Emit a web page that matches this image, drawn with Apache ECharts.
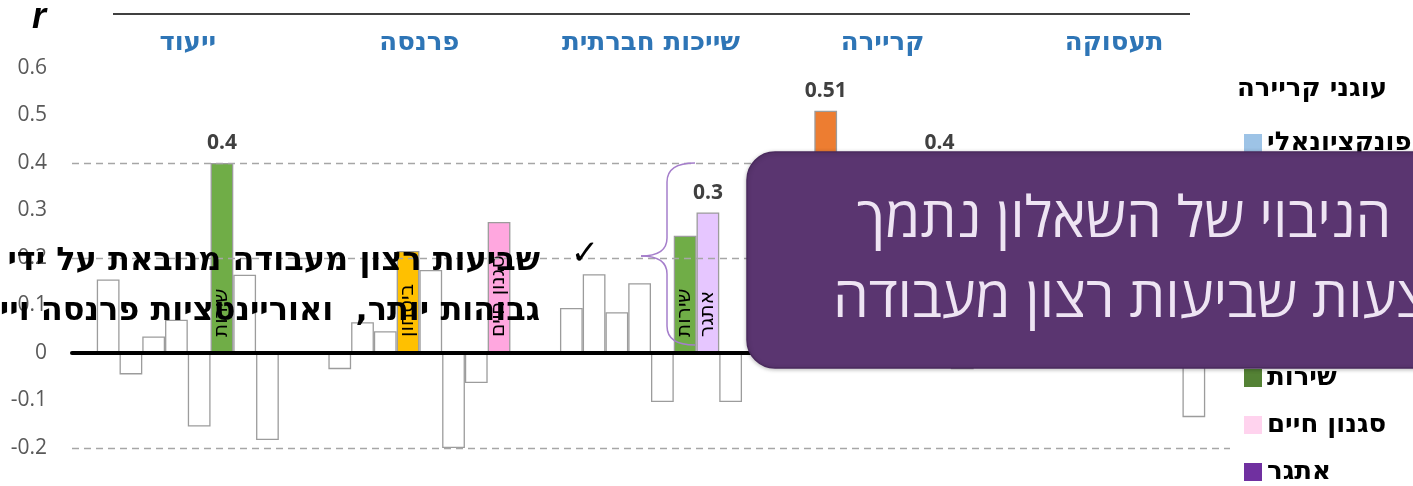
<!DOCTYPE html>
<html>
<head>
<meta charset="utf-8">
<script src="https://cdn.jsdelivr.net/npm/echarts@6/dist/echarts.min.js"></script>
<style>
html,body{margin:0;padding:0;background:#fff;overflow:hidden;}
#chart{width:1413px;height:486px;}
</style>
</head>
<body>
<div id="chart"></div>
<script>
// ---- data ----
const categories = ['ייעוד', 'פרנסה', 'שייכות חברתית', 'קריירה', 'תעסוקה'];
// bar order inside each group (left to right)
const anchorNames = ['פונקציונאלי', 'ניהולי', 'עצמאות', 'ביטחון', 'יזמות', 'שירות', 'אתגר', 'סגנון חיים'];
const legendOrder = ['פונקציונאלי', 'ניהולי', 'עצמאות', 'ביטחון', 'יזמות', 'שירות', 'סגנון חיים', 'אתגר'];
const functional      = [0.155, -0.034, 0.095, 0.14, 0.20];
const managerial      = [-0.045, 0.065, 0.166, 0.51, 0.10];
const autonomy        = [0.035, 0.046, 0.086, 0.22, 0.25];
const security        = [0.07, 0.215, 0.147, 0.06, 0.30];
const entrepreneurial = [-0.155, 0.175, -0.103, 0.18, 0.15];
const service         = [0.40, -0.20, 0.247, 0.12, 0.05];
const challenge       = [0.165, -0.063, 0.296, 0.40, 0.18];
const lifestyle       = [-0.183, 0.276, -0.103, -0.034, -0.135];
const seriesValues = [functional, managerial, autonomy, security, entrepreneurial, service, challenge, lifestyle];
const yTicks = { min: -0.2, max: 0.6, interval: 0.1 };
const dashedLevels = [0.4, 0.2, -0.2];
const legendTitle = 'עוגני קריירה';
const yName = 'r';

// ---- styling of highlighted bars ----
const legendColors = {
  'פונקציונאלי': '#9DC3E6', 'ניהולי': '#ED7D31', 'עצמאות': '#A5A5A5', 'ביטחון': '#FFC000',
  'יזמות': '#5B9BD5', 'שירות': '#548235', 'סגנון חיים': '#FFD3EE', 'אתגר': '#7030A0'
};
// [series, category, fill, name label inside, value label on top]
const highlights = [
  ['שירות', 'ייעוד', '#70AD47', true, true],
  ['ביטחון', 'פרנסה', '#FFC000', true, false],
  ['סגנון חיים', 'פרנסה', '#FFA7DF', true, false],
  ['שירות', 'שייכות חברתית', '#70AD47', true, false],
  ['אתגר', 'שייכות חברתית', '#E6C6FF', true, true],
  ['ניהולי', 'קריירה', '#ED7D31', false, true],
  ['אתגר', 'קריירה', '#E6C6FF', false, true]
];
function hl(name, cat) {
  return highlights.find(h => h[0] === name && h[1] === cat);
}

const HEB = "'DejaVu Sans', 'Liberation Sans', sans-serif";
const NUM = "'Open Sans', 'Liberation Sans', sans-serif";
const BAR_GAP_CAT = '21.4%';

const mainSeries = anchorNames.map((name, si) => ({
  name: name,
  type: 'bar',
  xAxisIndex: 0,
  z: 3,
  barGap: '0%',
  barCategoryGap: BAR_GAP_CAT,
  silent: true,
  itemStyle: { color: '#ffffff', borderColor: '#9c9c9c', borderWidth: 1.3 },
  data: seriesValues[si].map((v, ci) => {
    const h = hl(name, categories[ci]);
    if (!h) return v;
    const item = { value: v, itemStyle: { color: h[2] } };
    if (h[3]) {
      item.label = {
        show: true, formatter: name, position: 'insideBottom', rotate: 90,
        align: 'left', verticalAlign: 'middle', distance: 16,
        color: '#000', fontSize: 20, fontFamily: HEB
      };
    }
    return item;
  })
}));

const labelSeries = anchorNames.map((name, si) => {
  const s = {
    name: 'lbl_' + si,
    type: 'bar',
    xAxisIndex: 1,
    z: 1,
    barGap: '0%',
    barCategoryGap: BAR_GAP_CAT,
    silent: true,
    itemStyle: { color: 'rgba(0,0,0,0)', borderWidth: 0 },
    label: {
      show: false, position: 'top', distance: 9,
      color: '#404040', fontSize: 21, fontWeight: 'bold', fontFamily: NUM,
      formatter: p => String(parseFloat(Number(p.value).toFixed(2)))
    },
    data: seriesValues[si].map((v, ci) => {
      const h = hl(name, categories[ci]);
      return (h && h[4]) ? { value: v, label: { show: true } } : v;
    })
  };
  if (si === 0) {
    s.markLine = {
      silent: true, symbol: 'none',
      label: { show: false },
      lineStyle: { color: '#a6a6a6', type: [7, 5], width: 1.3 },
      data: dashedLevels.map(v => ({ yAxis: v }))
    };
  }
  return s;
});

// brace pieces
const braceStyle = { stroke: '#A57ECB', lineWidth: 1.5, fill: null };
const brace = [
  { type: 'bezierCurve', z: 50, shape: { x1: 695, y1: 163, x2: 667, y2: 182, cpx1: 667, cpy1: 163 }, style: braceStyle },
  { type: 'line', z: 50, shape: { x1: 667, y1: 182, x2: 667, y2: 238 }, style: braceStyle },
  { type: 'bezierCurve', z: 50, shape: { x1: 667, y1: 238, x2: 641, y2: 256, cpx1: 667, cpy1: 256 }, style: braceStyle },
  { type: 'bezierCurve', z: 50, shape: { x1: 641, y1: 256, x2: 667, y2: 274, cpx1: 667, cpy1: 256 }, style: braceStyle },
  { type: 'line', z: 50, shape: { x1: 667, y1: 274, x2: 667, y2: 326 }, style: braceStyle },
  { type: 'bezierCurve', z: 50, shape: { x1: 667, y1: 326, x2: 695, y2: 345, cpx1: 667, cpy1: 345 }, style: braceStyle }
];

const chart = echarts.init(document.getElementById('chart'), null, { renderer: 'canvas' });
chart.setOption({
  animation: false,
  textStyle: { fontFamily: HEB },
  grid: { left: 72, right: 183, top: 68, bottom: 38 },
  title: {
    text: legendTitle, left: 1232, top: 71,
    textStyle: { fontSize: 26, fontWeight: 'bold', color: '#000', fontFamily: HEB }
  },
  legend: {
    orient: 'vertical', left: 1239, top: 125, height: 420,
    itemWidth: 18, itemHeight: 18, itemGap: 21,
    icon: 'rect',
    textStyle: { fontSize: 26, fontWeight: 'bold', color: '#000', fontFamily: HEB },
    data: legendOrder.map(n => ({ name: n, itemStyle: { color: legendColors[n], borderWidth: 0 } }))
  },
  xAxis: [
    {
      type: 'category', data: categories, position: 'top',
      axisLine: { show: false, onZero: false }, axisTick: { show: false },
      axisLabel: { color: '#2E75B6', fontWeight: 'bold', fontSize: 26, margin: 12, fontFamily: HEB }
    },
    {
      type: 'category', data: categories, position: 'bottom', z: 10,
      axisLine: { show: true, onZero: true, lineStyle: { color: '#000', width: 4 } },
      axisTick: { show: false }, axisLabel: { show: false }
    }
  ],
  yAxis: {
    type: 'value', min: yTicks.min, max: yTicks.max, interval: yTicks.interval,
    axisLine: { show: false }, axisTick: { show: false }, splitLine: { show: false },
    axisLabel: { color: '#595959', fontSize: 21, margin: 25, fontFamily: NUM }
  },
  series: labelSeries.concat(mainSeries),
  graphic: [
    { type: 'line', z: 50, shape: { x1: 113, y1: 14, x2: 1190, y2: 14 }, style: { stroke: '#404040', lineWidth: 2 } },
    { type: 'text', z: 50, style: { text: yName, x: 39, y: 18, align: 'center', verticalAlign: 'middle', font: "italic bold 36px 'Liberation Sans', Arial", fill: '#000' } }
  ].concat(brace).concat([
    { type: 'text', z: 60, style: { text: '✓', x: 585, y: 255, align: 'center', verticalAlign: 'middle', font: "34px 'DejaVu Sans'", fill: '#000' } },
    { type: 'text', z: 60, style: { text: 'שביעות רצון מעבודה מנובאת על ידי', x: 540, y: 262, align: 'right', verticalAlign: 'middle', font: "bold 32px 'DejaVu Sans', sans-serif", fill: '#000' } },
    { type: 'text', z: 60, style: { text: 'גבוהות יותר,  ואוריינטציות פרנסה וייעוד', x: 540, y: 312, align: 'right', verticalAlign: 'middle', font: "bold 32px 'DejaVu Sans', sans-serif", fill: '#000' } },
    { type: 'rect', z: 100, shape: { x: 747, y: 152, width: 720, height: 216, r: 28 },
      style: { fill: '#5A3570', stroke: '#4A2A5E', lineWidth: 1.5, shadowBlur: 4, shadowColor: 'rgba(0,0,0,0.25)', shadowOffsetY: 1 } },
    { type: 'text', z: 101, style: { text: 'הניבוי של השאלון נתמך', x: 857, y: 221, align: 'left', verticalAlign: 'middle', font: "57px 'Open Sans', 'DejaVu Sans', sans-serif", fill: '#EEE4F3' } },
    { type: 'text', z: 101, style: { text: 'באמצעות שביעות רצון מעבודה', x: 833, y: 301, align: 'left', verticalAlign: 'middle', font: "57px 'Open Sans', 'DejaVu Sans', sans-serif", fill: '#EEE4F3' } }
  ])
});
</script>
</body>
</html>
